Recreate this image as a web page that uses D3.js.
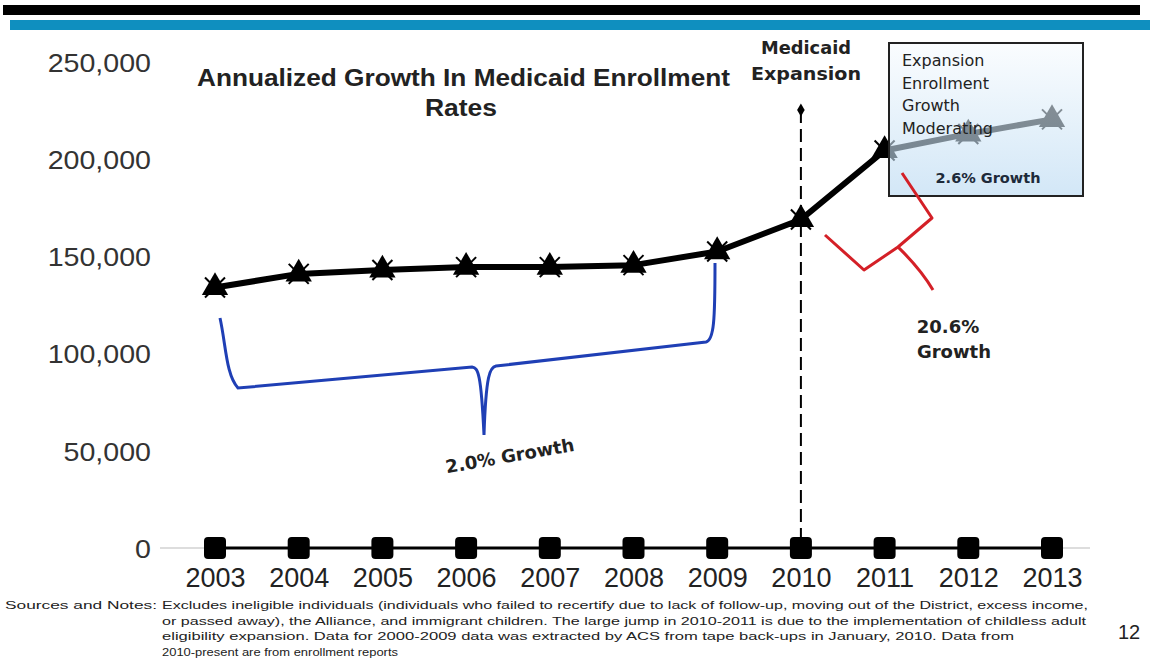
<!DOCTYPE html>
<html><head><meta charset="utf-8">
<script src="https://cdn.jsdelivr.net/npm/d3@7"></script>
<style>body{margin:0;background:#fff}svg{display:block}</style>
</head><body>
<script>
const years = ["2003","2004","2005","2006","2007","2008","2009","2010","2011","2012","2013"];
const enrollment = [134000, 141000, 143000, 144500, 144500, 145500, 152500, 169000, 204500, 213000, 220500];
const baseline = [0,0,0,0,0,0,0,0,0,0,0];
const yTicks = [0, 50000, 100000, 150000, 200000, 250000];
const titleLines = ["Annualized Growth In Medicaid Enrollment", "Rates"];
const expansionLabel = ["Medicaid", "Expansion"];
const boxLines = ["Expansion", "Enrollment", "Growth", "Moderating"];
const boxGrowth = "2.6% Growth";
const earlyGrowth = "2.0% Growth";
const jumpGrowth = ["20.6%", "Growth"];
const notesLead = "Sources and Notes:";
const notes = [
 "Excludes ineligible individuals (individuals who failed to recertify due to lack of follow-up, moving out of the District, excess income,",
 "or passed away), the Alliance, and immigrant children. The large jump in 2010-2011 is due to the implementation of childless adult",
 "eligibility expansion. Data for 2000-2009 data was extracted by ACS from tape back-ups in January, 2010.  Data from",
 "2010-present are from enrollment reports"
];
const pageNum = "12";

const W = 1150, H = 665;
const svg = d3.select("body").append("svg").attr("width", W).attr("height", H);
const defs = svg.append("defs");
const grad = defs.append("linearGradient").attr("id","boxg").attr("x1",0).attr("y1",0).attr("x2",0).attr("y2",1);
grad.append("stop").attr("offset","0%").attr("stop-color","#f7fbfe");
grad.append("stop").attr("offset","100%").attr("stop-color","#b5d7f1");

// header bars
svg.append("rect").attr("x",3).attr("y",5).attr("width",1137).attr("height",10).attr("fill","#000");
svg.append("rect").attr("x",10).attr("y",20).attr("width",1140).attr("height",10).attr("fill","#0f8fbf");

const x = d3.scalePoint().domain(years).range([215, 1052]);
const y = d3.scaleLinear().domain([0, 250000]).range([548, 62]);

// axis baseline
svg.append("line").attr("x1",160).attr("x2",1090).attr("y1",y(0)).attr("y2",y(0)).attr("stroke","#bbb").attr("stroke-width",1);

// y axis labels
const yAxis = d3.axisLeft(y).tickValues(yTicks).tickFormat(d3.format(",")).tickSize(0).tickPadding(0);
const ya = svg.append("g").attr("transform","translate(151,0)").call(yAxis);
ya.select(".domain").remove();
ya.selectAll("text").attr("font-family","Liberation Sans, Arial, sans-serif").attr("font-size",26).attr("fill","#333").attr("dy","0.36em")
 .each(function(){ const l = this.getComputedTextLength(); d3.select(this).attr("textLength", l*1.1).attr("lengthAdjust","spacingAndGlyphs"); });

// x axis labels
const xAxis = d3.axisBottom(x).tickSize(0).tickPadding(0);
const xa = svg.append("g").attr("transform","translate(0,568)").call(xAxis);
xa.select(".domain").remove();
xa.selectAll("text").attr("font-family","Liberation Sans, Arial, sans-serif").attr("font-size",27).attr("fill","#222").attr("dy","0.71em");

// title
svg.append("g").selectAll("text").data(titleLines).join("text")
 .attr("x",(d,i)=> i===0 ? 197 : 425).attr("y",(d,i)=>86+i*30)
 .attr("font-family","Liberation Sans, Arial, sans-serif").attr("font-weight","bold").attr("font-size",23).attr("fill","#222")
 .attr("textLength",(d,i)=> i===0 ? 533 : 72).attr("lengthAdjust","spacingAndGlyphs")
 .text(d=>d);

// medicaid expansion dashed line
svg.append("line").attr("x1",x("2010")).attr("x2",x("2010")).attr("y1",110).attr("y2",y(0))
 .attr("stroke","#000").attr("stroke-width",2).attr("stroke-dasharray","13,6");
svg.append("path").attr("d",d3.symbol().type(d3.symbolDiamond).size(50)()).attr("transform",`translate(${x("2010")},110)`).attr("fill","#000");
svg.append("g").selectAll("text").data(expansionLabel).join("text")
 .attr("x",806).attr("y",(d,i)=>54+i*26).attr("text-anchor","middle")
 .attr("font-family","DejaVu Sans, sans-serif").attr("font-weight","bold").attr("font-size",18.5).attr("fill","#222")
 .attr("textLength",(d,i)=>i===0?90:110).attr("lengthAdjust","spacingAndGlyphs").text(d=>d);

// baseline series
const line = d3.line().x((d,i)=>x(years[i])).y(d=>y(d));
svg.append("path").datum(baseline).attr("d",line).attr("fill","none").attr("stroke","#000").attr("stroke-width",3);
svg.append("g").selectAll("rect").data(baseline).join("rect")
 .attr("x",(d,i)=>x(years[i])-11).attr("y",d=>y(d)-11).attr("width",22).attr("height",22).attr("rx",4)
 .attr("fill","#000");

// enrollment series
svg.append("path").datum(enrollment).attr("d",line).attr("fill","none").attr("stroke","#000").attr("stroke-width",6).attr("stroke-linejoin","round");
const mk = svg.append("g").selectAll("g").data(enrollment).join("g")
 .attr("transform",(d,i)=>`translate(${x(years[i])},${y(d)})`);
mk.append("path").attr("d",d3.symbol().type(d3.symbolTriangle).size(300)()).attr("fill","#000");
mk.append("line").attr("x1",-10).attr("y1",-10).attr("x2",10).attr("y2",10).attr("stroke","#000").attr("stroke-width",2);
mk.append("line").attr("x1",10).attr("y1",-10).attr("x2",-10).attr("y2",10).attr("stroke","#000").attr("stroke-width",2);

// growth box (translucent over line)
svg.append("rect").attr("x",889).attr("y",43).attr("width",194).attr("height",153)
 .attr("fill","url(#boxg)").attr("fill-opacity",0.6).attr("stroke","#222").attr("stroke-width",2);
svg.append("g").selectAll("text").data(boxLines).join("text")
 .attr("x",902).attr("y",(d,i)=>66+i*22.5)
 .attr("font-family","DejaVu Sans, sans-serif").attr("font-size",16).attr("fill","#222").text(d=>d);
svg.append("text").attr("x",988).attr("y",183).attr("text-anchor","middle")
 .attr("font-family","DejaVu Sans, sans-serif").attr("font-size",14.5).attr("font-weight","bold").attr("fill","#1d2a3a").text(boxGrowth);

// blue brace
svg.append("path").attr("d","M220,318 C226,345 226,375 238,388 L472,367 C478,368 481,372 484,435 C486,374 490,367 496,366 L706,342 C714,340 715,320 715,263")
 .attr("fill","none").attr("stroke","#1f3fb5").attr("stroke-width",3);
svg.append("text").attr("transform","translate(511,462) rotate(-10)").attr("text-anchor","middle")
 .attr("font-family","DejaVu Sans, sans-serif").attr("font-weight","bold").attr("font-size",18).attr("fill","#222").text(earlyGrowth);

// red brace
svg.append("path").attr("d","M825,235 L864,270 L898,247 L932,218 L902,173 M898,247 C903,252 920,268 933,290")
 .attr("fill","none").attr("stroke","#d42027").attr("stroke-width",3).attr("stroke-linejoin","round");
svg.append("g").selectAll("text").data(jumpGrowth).join("text")
 .attr("x",(d,i)=>i===0?948:954).attr("y",(d,i)=>333+i*25).attr("text-anchor","middle")
 .attr("font-family","DejaVu Sans, sans-serif").attr("font-weight","bold").attr("font-size",18).attr("fill","#222").text(d=>d);

// notes
const nf = "Liberation Sans Narrow, Liberation Sans, Arial, sans-serif";
svg.append("text").attr("x",5).attr("y",609).attr("font-family",nf).attr("font-size",11.5).attr("fill","#222")
 .attr("textLength",152).attr("lengthAdjust","spacingAndGlyphs").text(notesLead);
const nlens = [926, 924, 852, 236];
svg.append("g").selectAll("text").data(notes).join("text")
 .attr("x",162).attr("y",(d,i)=>609+i*15.5).attr("font-family",nf).attr("font-size",11.5).attr("fill","#222")
 .attr("textLength",(d,i)=>nlens[i]).attr("lengthAdjust","spacingAndGlyphs").text(d=>d);
svg.append("text").attr("x",1118).attr("y",639).attr("font-family","Liberation Sans, Arial, sans-serif").attr("font-size",20).attr("fill","#222").text(pageNum);
</script>
</body></html>
